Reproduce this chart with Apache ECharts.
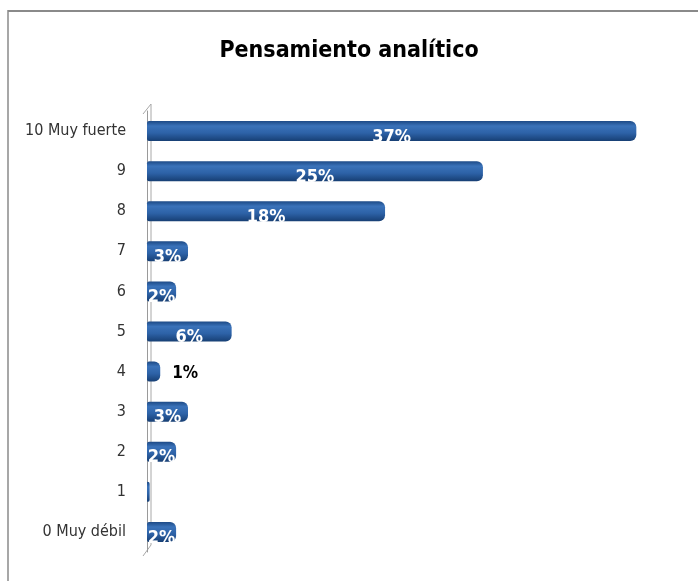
<!DOCTYPE html>
<html>
<head>
<meta charset="utf-8">
<script src="https://cdn.jsdelivr.net/npm/echarts@6/dist/echarts.min.js"></script>
<style>
html,body{margin:0;padding:0;background:#fff;}
#chart{width:698px;height:581px;}
</style>
</head>
<body>
<div id="chart"></div>
<script>
// Categories from bottom to top (ECharts category y-axis draws first item at bottom)
var categories = ['0 Muy débil', '1', '2', '3', '4', '5', '6', '7', '8', '9', '10 Muy fuerte'];
var values = [2.2, 0.2, 2.2, 3.1, 1, 6.4, 2.2, 3.1, 18, 25.4, 37];
var valueLabels = ['2%', '', '2%', '3%', '1%', '6%', '2%', '3%', '18%', '25%', '37%'];
var chartTitle = 'Pensamiento analítico';

var narrow = '"Liberation Sans Narrow", "DejaVu Sans Condensed", sans-serif';

var barColor = new echarts.graphic.LinearGradient(0, 0, 0, 1, [
  {offset: 0, color: '#1d4a86'},
  {offset: 0.25, color: '#3a72b9'},
  {offset: 0.6, color: '#2d62a7'},
  {offset: 1, color: '#173f74'}
]);

var seriesData = values.map(function (v, i) {
  var item = {value: v};
  if (valueLabels[i] === '') {
    item.label = {show: false};
  } else if (v < 1.5) {
    item.label = {
      show: true, position: 'right', distance: 12, offset: [0, 2],
      color: '#000', fontSize: 17, fontWeight: 'bold', fontFamily: narrow
    };
  }
  return item;
});

var chart = echarts.init(document.getElementById('chart'), null, {renderer: 'canvas'});
chart.setOption({
  backgroundColor: '#fff',
  animation: false,
  title: {
    text: chartTitle,
    left: 'center',
    top: 35,
    textStyle: {fontFamily: narrow, fontSize: 23, fontWeight: 'bold', color: '#000'}
  },
  grid: {left: 147, top: 111, height: 441, right: 22, containLabel: false},
  xAxis: {
    type: 'value', min: 0, max: 40, show: false,
    splitLine: {show: false}
  },
  yAxis: {
    type: 'category',
    data: categories,
    axisTick: {show: false},
    axisLine: {show: true, lineStyle: {color: '#9a9a9a', width: 1}},
    axisLabel: {
      margin: 21, color: '#333', fontSize: 16, fontFamily: narrow
    }
  },
  series: [{
    type: 'bar',
    data: seriesData,
    barWidth: 20,
    itemStyle: {color: barColor, borderRadius: [2, 6, 6, 2]},
    label: {
      show: true,
      position: 'inside',
      offset: [0, 6],
      color: '#fff',
      fontSize: 18,
      fontWeight: 'bold',
      fontFamily: narrow,
      formatter: function (p) { return valueLabels[p.dataIndex]; }
    }
  }],
  graphic: [
    {type: 'line', shape: {x1: 8, y1: 11, x2: 698, y2: 11}, style: {stroke: '#8a8a8a', lineWidth: 2}},
    {type: 'line', shape: {x1: 8, y1: 10, x2: 8, y2: 581}, style: {stroke: '#8a8a8a', lineWidth: 1.5}},
    {type: 'polyline', shape: {points: [[143, 114], [151, 104], [151, 545], [143, 556]]}, style: {stroke: '#a8a8a8', lineWidth: 1, fill: 'none'}}
  ]
});
</script>
</body>
</html>
